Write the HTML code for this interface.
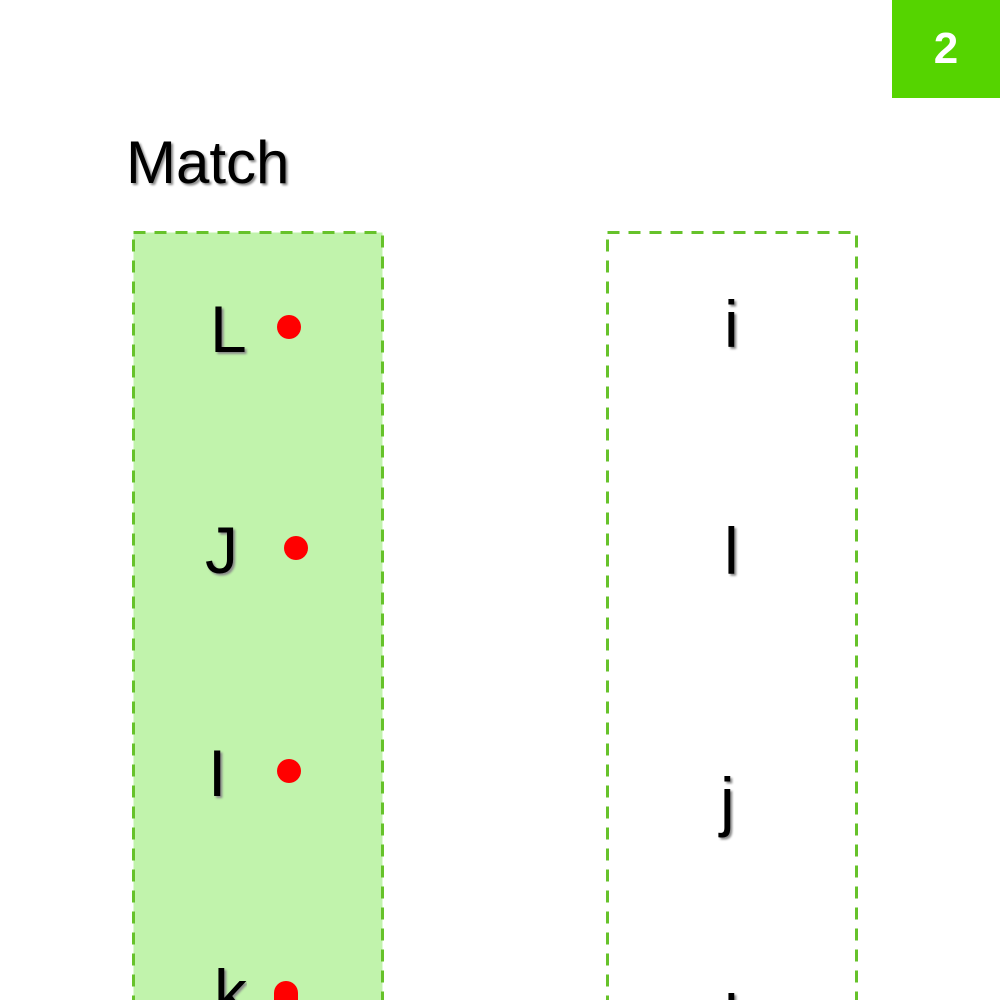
<!DOCTYPE html>
<html style="overflow:hidden;width:1000px;height:1000px"><head><style>
body{margin:0;width:1000px;height:1000px;overflow:hidden;background:#fff;font-family:"Liberation Sans",sans-serif}
#w{position:relative;width:1000px;height:1000px;overflow:hidden}
.a{position:absolute}
.t{position:absolute;font-size:66px;line-height:1;color:#000;text-shadow:2px 2px 2px #888}
.d{position:absolute;width:24px;height:24px;border-radius:50%;background:#f00}
</style></head><body><div id="w">
<div class="a" style="left:892px;top:0;width:108px;height:98px;background:#55d400;color:#fff;font-weight:bold;font-size:44px;text-align:center;line-height:98px">2</div>
<div class="a" style="left:126px;top:128px;font-size:60px;color:#000;text-shadow:2px 2px 2px #888">Match</div>
<svg class="a" style="left:0;top:0" width="1000" height="1000">
<rect x="133.5" y="232.5" width="249" height="800" fill="#c1f3ac" stroke="#66c22a" stroke-width="3" stroke-dasharray="12 9"/>
<rect x="607.5" y="232.5" width="249" height="800" fill="none" stroke="#66c22a" stroke-width="3" stroke-dasharray="12 9"/>
</svg>
<div class="t" style="left:210px;top:296px">L</div>
<div class="t" style="left:205px;top:517px">J</div>
<div class="t" style="left:208px;top:740px">I</div>
<div class="t" style="left:214px;top:960px;height:40px;overflow:hidden">k</div>
<div class="d" style="left:277px;top:315px"></div>
<div class="d" style="left:284px;top:536px"></div>
<div class="d" style="left:277px;top:759px"></div>
<div class="d" style="left:274px;top:981px;height:19px;border-radius:12px 12px 0 0"></div>
<div class="t" style="left:724px;top:291px">i</div>
<div class="t" style="left:724px;top:518px">l</div>
<div class="t" style="left:720px;top:768px">j</div>
<div class="t" style="left:724px;top:985px;height:15px;overflow:hidden">l</div>
</div></body></html>
